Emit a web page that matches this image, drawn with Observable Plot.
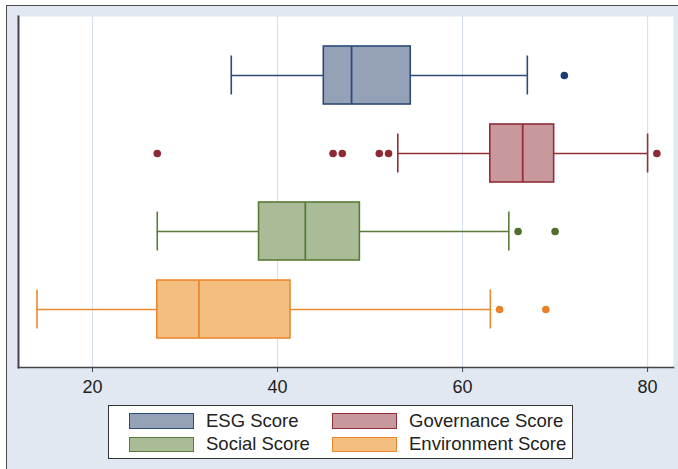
<!DOCTYPE html>
<html>
<head>
<meta charset="utf-8">
<script src="https://cdn.jsdelivr.net/npm/d3@7"></script>
<script src="https://cdn.jsdelivr.net/npm/@observablehq/plot@0.6"></script>
<style>
  html, body { margin: 0; padding: 0; background: #ffffff; }
  body { width: 678px; height: 469px; position: relative; overflow: hidden; font-family: "Liberation Sans", Arial, sans-serif; }
  #bg { position: absolute; left: 6px; top: 5px; width: 672px; height: 464px; background: #e1e8f1;
        border-top: 1.5px solid #4a4a4a; border-left: 1.5px solid #4a4a4a; box-sizing: border-box; }
  #chart { position: absolute; left: 0; top: 0; }
  #legend { position: absolute; left: 108px; top: 405px; width: 465px; height: 54px; box-sizing: border-box;
            background: #ffffff; border: 1.2px solid #333; padding: 3px 0 0 20px;
            display: grid; grid-template-columns: 203px auto; grid-auto-rows: 23.5px; }
  .item { display: flex; align-items: center; font-size: 18.5px; color: #222; white-space: nowrap; }
  .sw { width: 65px; height: 15.5px; box-sizing: border-box; border: 1.5px solid; margin-right: 12px; }
</style>
</head>
<body>
<div id="bg"></div>
<div id="chart"></div>
<div id="legend"></div>
<script>
// ---- data ----
const categories   = ["ESG Score", "Governance Score", "Social Score", "Environment Score"];
const lowerWhisker = [35, 53, 27, 14];
const q1           = [45, 63, 38, 27];
const median       = [48, 66.5, 43, 31.5];
const q3           = [54.4, 69.9, 48.9, 41.4];
const upperWhisker = [67, 80, 65, 63];
const outliersESG  = [71];
const outliersGov  = [27, 46, 47, 51, 52, 81];
const outliersSoc  = [66, 70];
const outliersEnv  = [64, 69];
const xTicks       = [20, 40, 60, 80];
const xDomain      = [12, 82.8];

// styles
const fillColors   = ["#95a1b6", "#c8989c", "#a9bb97", "#f3be80"];
const strokeColors = ["#2c4a7a", "#8f2f38", "#5a7b37", "#e9892f"];
const dotColors    = ["#1c3d70", "#8e2a33", "#4f6f2a", "#e8812a"];

const boxes = categories.map((c, i) => ({
  cat: c, lo: lowerWhisker[i], q1: q1[i], med: median[i], q3: q3[i], hi: upperWhisker[i],
  fill: fillColors[i], stroke: strokeColors[i]
}));
const outlierLists = [outliersESG, outliersGov, outliersSoc, outliersEnv];
const outliers = outlierLists.flatMap((arr, i) => arr.map(v => ({cat: categories[i], v, color: dotColors[i]})));

const plot = Plot.plot({
  width: 678, height: 400,
  marginTop: 16, marginBottom: 33, marginLeft: 18, marginRight: 5,
  style: "background: transparent; font-family: 'Liberation Sans', Arial, sans-serif; overflow: visible;",
  x: {domain: xDomain, axis: null},
  y: {domain: categories, type: "band", paddingInner: 0.26, paddingOuter: 0.371, axis: null},
  marks: [
    Plot.frame({fill: "white", stroke: "none"}),
    Plot.gridX(xTicks, {stroke: "#d6deea", strokeOpacity: 1, strokeWidth: 1}),
    // whiskers
    Plot.ruleY(boxes, {y: "cat", x1: "lo", x2: "q1", stroke: "stroke", strokeWidth: 1.6}),
    Plot.ruleY(boxes, {y: "cat", x1: "q3", x2: "hi", stroke: "stroke", strokeWidth: 1.6}),
    Plot.tickX(boxes, {y: "cat", x: "lo", stroke: "stroke", strokeWidth: 1.6, insetTop: 9.5, insetBottom: 9.5}),
    Plot.tickX(boxes, {y: "cat", x: "hi", stroke: "stroke", strokeWidth: 1.6, insetTop: 9.5, insetBottom: 9.5}),
    // boxes
    Plot.barX(boxes, {y: "cat", x1: "q1", x2: "q3", fill: "fill", stroke: "stroke", strokeWidth: 1.6}),
    Plot.tickX(boxes, {y: "cat", x: "med", stroke: "stroke", strokeWidth: 1.8}),
    // outliers
    Plot.dot(outliers, {y: "cat", x: "v", fill: "color", r: 3.8, stroke: "none"}),
    // axes
    Plot.frame({anchor: "left", stroke: "#444", strokeWidth: 2}),
    Plot.frame({anchor: "bottom", stroke: "#444", strokeWidth: 1.6}),
    Plot.axisX(xTicks, {tickSize: 5, tickPadding: 8, fontSize: 18, stroke: "#444", fill: "#222", tickFormat: d => String(d)})
  ]
});
document.getElementById("chart").appendChild(plot);

// legend
const legend = document.getElementById("legend");
categories.forEach((c, i) => {
  const item = document.createElement("div");
  item.className = "item";
  const sw = document.createElement("span");
  sw.className = "sw";
  sw.style.background = fillColors[i];
  sw.style.borderColor = strokeColors[i];
  const t = document.createElement("span");
  t.textContent = c;
  item.appendChild(sw);
  item.appendChild(t);
  legend.appendChild(item);
});
</script>
</body>
</html>
